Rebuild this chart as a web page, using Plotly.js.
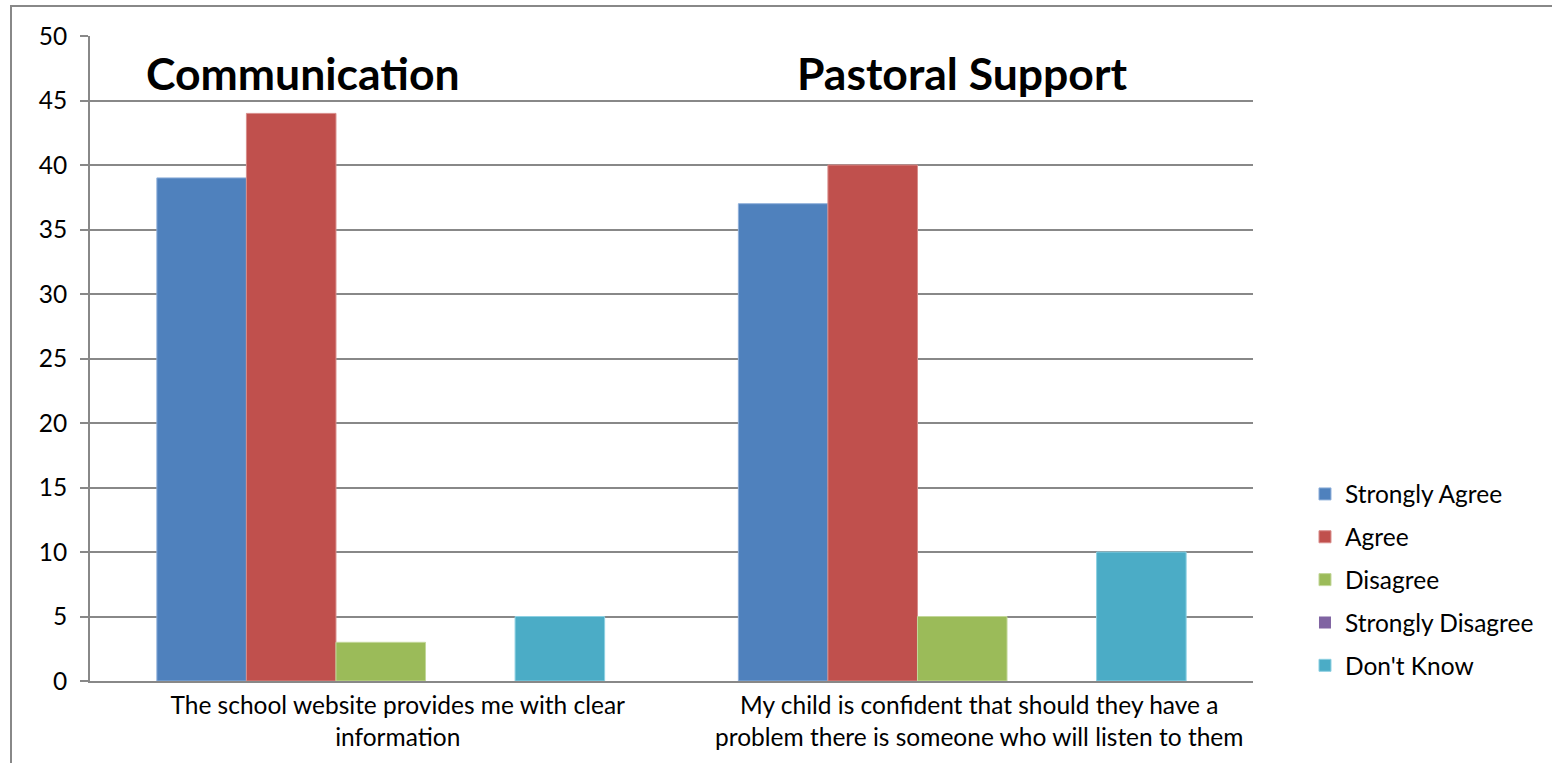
<!DOCTYPE html>
<html>
<head>
<meta charset="utf-8">
<script src="https://cdn.plot.ly/plotly-3.0.1.min.js"></script>
<style>html,body{margin:0;padding:0;background:#fff;}#chart{width:1552px;height:763px;}</style>
</head>
<body>
<div id="chart"></div>
<script>
const categories = [
  "The school website provides me with clear<br>information",
  "My child is confident that should they have a<br>problem there is someone who will listen to them"
];
const seriesNames = ["Strongly Agree", "Agree", "Disagree", "Strongly Disagree", "Don't Know"];
const stronglyAgree = [39, 37];
const agree = [44, 40];
const disagree = [3, 5];
const stronglyDisagree = [0, 0];
const dontKnow = [5, 10];
const sectionTitles = ["Communication", "Pastoral Support"];
const yTicks = [0, 5, 10, 15, 20, 25, 30, 35, 40, 45, 50];

const colors = ["#4F81BD", "#C0504D", "#9BBB59", "#8064A2", "#4BACC6"];
const edges = ["#8FB0DA", "#D88C8A", "#C3D79A", "#A893C3", "#8DD0E2"];
const values = [stronglyAgree, agree, disagree, stronglyDisagree, dontKnow];
const FONT = "Lato, 'Open Sans', sans-serif";
const FS = 24.5;

const traces = seriesNames.map((n, i) => ({
  type: "bar",
  name: n,
  x: categories,
  y: values[i],
  legendgroup: "g" + i,
  marker: {color: colors[i], line: {color: edges[i], width: values[i].every(v => v === 0) ? 0 : 1}},
  hoverinfo: "x+y+name"
}));

const layout = {
  width: 1552, height: 763,
  margin: {l: 90, r: 299, t: 36, b: 82},
  paper_bgcolor: "#fff", plot_bgcolor: "#fff",
  font: {family: FONT, size: FS, color: "#000"},
  barmode: "group", bargap: 0.23, bargroupgap: 0,
  showlegend: true,
  legend: {x: 1.0447, xanchor: "left", y: 0.1566, yanchor: "middle",
           font: {family: FONT, size: FS, color: "#000"}, tracegroupgap: 8,
           traceorder: "grouped", bgcolor: "rgba(0,0,0,0)"},
  xaxis: {type: "category", showline: true, linecolor: "#888", linewidth: 2,
          ticks: "", showgrid: false, ticklabelshift: 17, ticklabelstandoff: 2,
          tickfont: {family: FONT, size: FS, color: "#000"}},
  yaxis: {range: [0, 50], tickvals: yTicks, ticktext: yTicks.map(String),
          showline: true, linecolor: "#888", linewidth: 2,
          ticks: "outside", ticklen: 8, tickcolor: "#888", tickwidth: 2,
          ticklabelstandoff: 8,
          showgrid: true, gridcolor: "#888", gridwidth: 2, zeroline: false,
          tickfont: {family: FONT, size: FS, color: "#000"}},
  annotations: [
    {text: "<b>" + sectionTitles[0] + "</b>", xref: "paper", yref: "paper",
     x: (303 - 90) / 1163, y: (681 - 72) / 645, xanchor: "center", yanchor: "middle",
     showarrow: false, font: {family: FONT, size: 44.5, color: "#000"}},
    {text: "<b>" + sectionTitles[1] + "</b>", xref: "paper", yref: "paper",
     x: (962 - 90) / 1163, y: (681 - 72) / 645, xanchor: "center", yanchor: "middle",
     showarrow: false, font: {family: FONT, size: 44.5, color: "#000"}}
  ],
  shapes: [
    {type: "rect", xref: "paper", yref: "paper",
     x0: (11 - 90) / 1163, x1: (1570 - 90) / 1163,
     y0: (681 - 790) / 645, y1: 1 + (36 - 6) / 645,
     line: {color: "#888", width: 2}, fillcolor: "rgba(0,0,0,0)", layer: "below"}
  ]
};

Plotly.newPlot("chart", traces, layout, {displayModeBar: false, responsive: false});
</script>
</body>
</html>
